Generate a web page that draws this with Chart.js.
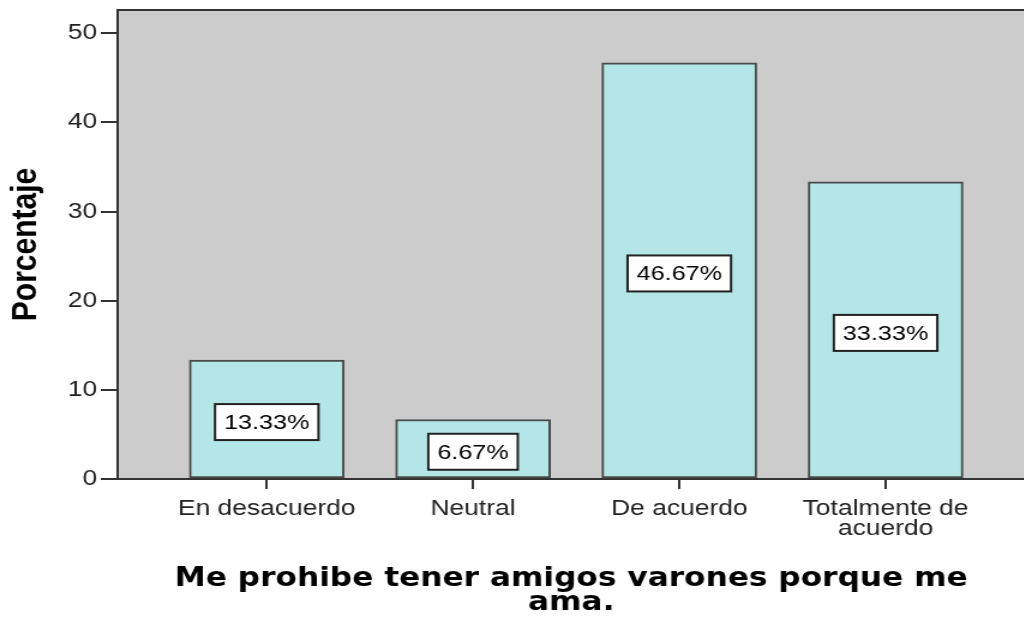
<!DOCTYPE html>
<html>
<head>
<meta charset="utf-8">
<script src="https://cdn.jsdelivr.net/npm/chart.js@4.4.1/dist/chart.umd.min.js"></script>
<style>
  html, body { margin: 0; padding: 0; background: #fff; overflow: hidden; }
  /* the reference is stretched sideways, so draw narrower and scale it */
  #wrap { width: 854px; height: 619px; transform: scaleX(1.2); transform-origin: 0 0; }
</style>
</head>
<body>
<div id="wrap"><canvas id="chart" width="854" height="619"></canvas></div>
<script>
const categories = ['En desacuerdo', 'Neutral', 'De acuerdo', ['Totalmente de', 'acuerdo']];
const percentages = [13.33, 6.67, 46.67, 33.33];
const yTicks = [0, 10, 20, 30, 40, 50];
const yTitle = 'Porcentaje';
const xTitle = ['Me prohibe tener amigos varones porque me', 'ama.'];

const sansFont = '"Liberation Sans", Arial, sans-serif';

// fondo gris del área de trazado + línea superior
const plotBackground = {
    id: 'plotBackground',
    beforeDraw(chart) {
        const { ctx, chartArea: a } = chart;
        ctx.save();
        ctx.fillStyle = '#cccccc';
        ctx.fillRect(a.left, a.top, a.right - a.left, a.bottom - a.top);
        ctx.strokeStyle = '#333';
        ctx.lineWidth = 2;
        ctx.beginPath();
        ctx.moveTo(a.left, a.top);
        ctx.lineTo(a.right, a.top);
        ctx.stroke();
        ctx.restore();
    }
};

// etiquetas con caja blanca en el centro de cada barra
const barLabels = {
    id: 'barLabels',
    afterDatasetsDraw(chart) {
        const { ctx } = chart;
        const meta = chart.getDatasetMeta(0);
        ctx.save();
        ctx.font = '21px ' + sansFont;
        ctx.textAlign = 'center';
        ctx.textBaseline = 'middle';
        meta.data.forEach((bar, i) => {
            const text = percentages[i].toFixed(2) + '%';
            const cy = (bar.y + bar.base) / 2 + 3;
            const w = ctx.measureText(text).width + 15;
            const h = 36;
            ctx.fillStyle = '#fff';
            ctx.fillRect(bar.x - w / 2, cy - h / 2, w, h);
            ctx.strokeStyle = '#222';
            ctx.lineWidth = 2;
            ctx.strokeRect(bar.x - w / 2, cy - h / 2, w, h);
            ctx.fillStyle = '#000';
            ctx.fillText(text, bar.x, cy + 1);
        });
        ctx.restore();
    }
};

new Chart(document.getElementById('chart'), {
    type: 'bar',
    data: {
        datasets: [{
            data: percentages.map((v, i) => ({ x: i, y: v })),
            backgroundColor: '#b4e6e8',
            borderColor: '#4a4a4a',
            borderWidth: 2,
            borderSkipped: false,
            barThickness: 129
        }]
    },
    options: {
        responsive: false,
        animation: false,
        devicePixelRatio: 1,
        layout: { padding: { top: 10, left: 0, right: 0, bottom: 0 } },
        plugins: { legend: { display: false }, tooltip: { enabled: false } },
        scales: {
            x: {
                type: 'linear',
                offset: false,
                min: -0.723,
                max: 3.675,
                afterBuildTicks: s => { s.ticks = categories.map((c, i) => ({ value: i })); },
                afterFit: s => { s.height = 140; },
                ticks: {
                    callback: v => categories[v],
                    autoSkip: false,
                    maxRotation: 0,
                    padding: 9,
                    color: '#222',
                    font: { family: sansFont, size: 22, lineHeight: 0.95 }
                },
                grid: { offset: false, drawOnChartArea: false, drawTicks: true, tickLength: 10, color: '#333', lineWidth: 2 },
                border: { display: true, color: '#333', width: 2 },
                title: {
                    display: true,
                    text: xTitle,
                    color: '#000',
                    font: { family: '"DejaVu Sans", Verdana, sans-serif', weight: 'bold', size: 26, lineHeight: 0.95 },
                    padding: { top: 0, bottom: 3 }
                }
            },
            y: {
                min: 0,
                max: 52.6,
                afterBuildTicks: s => { s.ticks = yTicks.map(v => ({ value: v })); },
                afterFit: s => { s.width = 98; },
                ticks: {
                    padding: 3,
                    color: '#222',
                    font: { family: sansFont, size: 22, lineHeight: 0.6 }
                },
                grid: { drawOnChartArea: false, drawTicks: true, tickLength: 14, color: '#333', lineWidth: 2 },
                border: { display: true, color: '#333', width: 2 },
                title: {
                    display: true,
                    text: yTitle,
                    color: '#000',
                    font: { family: sansFont, weight: 'bold', size: 30 },
                    padding: { top: 4, bottom: 0 }
                }
            }
        }
    },
    plugins: [plotBackground, barLabels]
});
</script>
</body>
</html>
